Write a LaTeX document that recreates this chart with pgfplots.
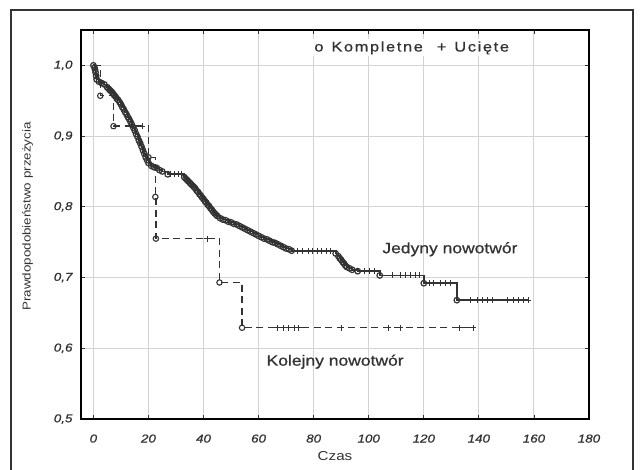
\documentclass[border=0pt]{standalone}
\usepackage{pgfplots}
\pgfplotsset{compat=1.18}
\usepackage{pgfplotstable}
\usepackage{fontspec}
\setmainfont{Liberation Sans}[FakeStretch=1.17]
\newfontfamily\heavy{Liberation Sans}[FakeStretch=1.17, FakeBold=0.8]
\newfontfamily\spaced{Liberation Sans}[FakeStretch=1.17, FakeBold=0.8, LetterSpace=12]

\definecolor{ink}{HTML}{333333}
\definecolor{gridgray}{HTML}{D4D4D4}

% Kaplan-Meier steps, t and S(t) after each event
\pgfplotstableread{
t S
0 1.000
0.4 0.997
0.6 0.994
0.8 0.990
1.0 0.985
1.2 0.980
2 0.977
3 0.975
4 0.973
5 0.969
5.5 0.967
6 0.965
6.5 0.963
7 0.961
7.5 0.958
8 0.956
8.5 0.953
9 0.951
9.5 0.948
10 0.945
10.5 0.941
11 0.938
11.5 0.934
12 0.931
12.5 0.927
13 0.924
13.5 0.920
14 0.916
14.5 0.912
15 0.908
15.5 0.903
16 0.899
16.5 0.894
17 0.890
17.5 0.885
18 0.880
18.5 0.875
19 0.870
19.5 0.866
20 0.862
21 0.858
22 0.856
23 0.855
24 0.852
25 0.850
27 0.846
33 0.842
33.5 0.840
34 0.838
34.5 0.836
35 0.834
35.5 0.832
36 0.830
36.5 0.828
37 0.826
37.5 0.823
38 0.821
38.5 0.818
39 0.816
39.5 0.813
40 0.811
40.5 0.808
41 0.806
41.5 0.803
42 0.801
42.5 0.798
43 0.796
43.5 0.793
44 0.791
44.5 0.789
45 0.787
46 0.784
47 0.782
48 0.781
49 0.779
50 0.778
51 0.776
52 0.775
53 0.773
54 0.771
55 0.769
56 0.767
57 0.765
58 0.763
59 0.761
60 0.759
61 0.757
62 0.755
63 0.754
64 0.752
65 0.750
66 0.749
67 0.747
68 0.745
69 0.743
70 0.741
71 0.740
72 0.738
88 0.734
89 0.730
89.5 0.727
90 0.725
90.5 0.722
91 0.720
91.5 0.717
92 0.715
93 0.713
94 0.711
96 0.709
104 0.703
120 0.692
132 0.668
158 0.668
}\jedyny

\pgfplotstableread{
t S
28 0.846
29.5 0.846
31 0.846
32 0.846
74 0.738
76 0.738
78 0.738
79.7 0.738
81.5 0.738
83 0.738
84.5 0.738
86 0.738
98.5 0.709
100.4 0.709
102.2 0.709
108.5 0.703
111.5 0.703
113.3 0.703
115.1 0.703
116.9 0.703
118.4 0.703
122 0.692
123.6 0.692
126 0.692
127.8 0.692
129.6 0.692
137 0.668
139.6 0.668
141.4 0.668
143.2 0.668
145 0.668
150.5 0.668
152.7 0.668
154.5 0.668
156.3 0.668
158 0.668
}\jedynycens

\pgfplotstableread{
t S
0 1.000
2.5 0.957
7.3 0.914
20 0.870
22.5 0.814
22.7 0.755
45.8 0.693
54 0.629
139 0.629
}\kolejny

\pgfplotstableread{
t S
17.7 0.914
41.3 0.755
67 0.629
69 0.629
71 0.629
73 0.629
74.5 0.629
90 0.629
107 0.629
111.5 0.629
133 0.629
138 0.629
}\kolejnycens

\begin{document}
\begin{tikzpicture}
\useasboundingbox (0,0) rectangle (642bp,470bp);
\draw[ink, line width=1.2bp] (11bp,-10bp) -- (11bp,460bp) -- (633bp,460bp) -- (633bp,-10bp);
\begin{axis}[
  at={(81bp,51bp)}, anchor=south west,
  scale only axis, width=508bp, height=389bp,
  xmin=-4.5, xmax=180, ymin=0.5, ymax=1.05,
  xtick={0,20,...,180}, ytick={0.5,0.6,...,1.0},
  tick align=inside, major tick length=4bp,
  tick style={ink, line width=0.8bp},
  axis line style={black, line width=1.3bp},
  grid=major, major grid style={gridgray, line width=0.9bp},
  /pgf/number format/.cd, fixed, fixed zerofill, precision=1, use comma, assume math mode=true,
  /pgfplots/.cd,
  xticklabel style={/pgf/number format/precision=0, font=\heavy\itshape\fontsize{11.5}{13}\selectfont, text=ink, yshift=-12bp},
  yticklabel style={font=\heavy\itshape\fontsize{11.5}{13}\selectfont, text=ink, xshift=-5bp},
  xlabel={Czas}, ylabel={Prawdopodobieństwo przeżycia},
  label style={font=\fontsize{11.5}{13}\selectfont, text=ink},
  xlabel style={font=\fontsize{13}{15}\selectfont, yshift=-2bp},
  ylabel style={yshift=14bp, xshift=8bp},
]
% Kolejny nowotwór (dashed)
\addplot[const plot, ink, line width=1.4bp, dash pattern=on 7bp off 4.5bp] table {\kolejny};
\addplot[only marks, mark=+, mark size=3bp, ink, line width=1bp] table {\kolejnycens};
\addplot[only marks, mark=o, mark size=2.7bp, draw=ink, fill=white, line width=1.1bp,
  restrict x to domain=1:60] table {\kolejny};

% Jedyny nowotwór (solid)
\addplot[const plot, ink, line width=1.8bp] table {\jedyny};
\addplot[only marks, mark=+, mark size=3bp, ink, line width=1bp] table {\jedynycens};
\addplot[only marks, mark=o, mark size=2.8bp, draw=ink, fill=ink!60, line width=1.2bp,
  restrict x to domain=0:157] table {\jedyny};

% legend (Kompletne = event, Ucięte = censored)
\node[font=\spaced\fontsize{14}{16}\selectfont, text=ink, fill=white, inner sep=2bp]
  at (rel axis cs:0.651,0.954) {o\hspace{8bp}Kompletne\hspace{14bp}+\hspace{8bp}Ucięte};

\node[font=\heavy\fontsize{15}{17}\selectfont, text=ink] at (axis cs:129.5,0.740) {Jedyny nowotwór};
\node[font=\heavy\fontsize{15}{17}\selectfont, text=ink] at (axis cs:87.8,0.581) {Kolejny nowotwór};
\end{axis}
\end{tikzpicture}
\end{document}
